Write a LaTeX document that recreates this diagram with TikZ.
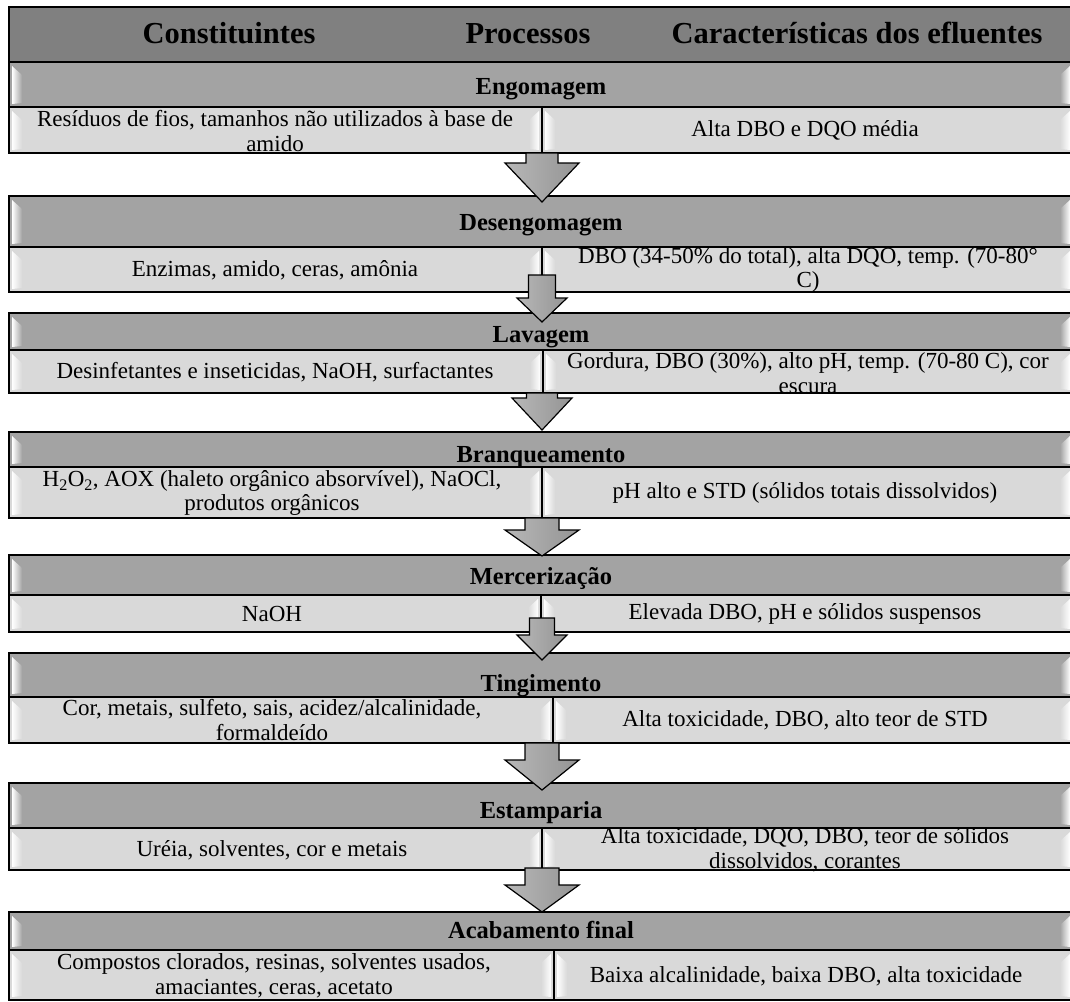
\documentclass[tikz,border=0pt]{standalone}
\usepackage{fontspec}
\setmainfont{Liberation Serif}
\usetikzlibrary{calc}
\colorlet{hdrC}{black!50}
\colorlet{ttlC}{black!36}
\colorlet{rowC}{black!15}
\tikzset{
  hdrS/.style ={draw=black, line width=2.4pt, fill=hdrC},
  lineS/.style={draw=black, line width=1.6pt},
  hdrT/.style ={font=\fontsize{30.5}{33}\selectfont\bfseries, inner sep=0pt, anchor=base},
  ttlT/.style ={font=\fontsize{24.5}{26}\selectfont\bfseries, inner sep=0pt, anchor=base},
  rowT/.style ={font=\fontsize{23}{24.5}\selectfont, align=center, inner sep=0pt},
  arrS/.style ={draw=black, line width=1.2pt, left color=black!28, middle color=white, right color=black!42},
}
\newcommand{\panel}[5]{%
  \fill[#5] (#1,#2) rectangle (#3,#4);
  \shade[left color=white, right color=#5] (#1+3,#2+4) -- (#1+13,#2+13) -- (#1+13,#4-4) -- (#1+3,#4-3) -- cycle;
  \shade[left color=#5, right color=white] (#3-13,#2+13) -- (#3-3,#2+4) -- (#3-3,#4-3) -- (#3-13,#4-4) -- cycle;
  \draw[lineS] (#1,#2) rectangle (#3,#4);
}
\newcommand{\stage}[4]{%
  \panel{9}{#1}{1073}{#2}{ttlC}
  \panel{9}{#2}{#4}{#3}{rowC}
  \panel{#4}{#2}{1073}{#3}{rowC}
}
\newcommand{\flowarrow}[6]{%
  \draw[arrS] (#1-#5,#2) -- (#1+#5,#2) -- (#1+#5,#3) -- (#1+#6,#3) -- (#1,#4) -- (#1-#6,#3) -- (#1-#5,#3) -- cycle;
}

\begin{document}
\begin{tikzpicture}[x=1pt, y=-1pt]
  \useasboundingbox (0,0) rectangle (1070,1001);
  \fill[white] (0,0) rectangle (1070,1001);
  \draw[hdrS] (9,7) rectangle (1073,62);
  \node[hdrT] (hCon) at (229,43) {Constituintes};
  \node[hdrT] (hPro) at (528,43) {Processos};
  \node[hdrT] (hEfl) at (857,43) {Características dos efluentes};

  \stage{62}{107}{153}{542}
  \stage{196}{247}{292}{542}
  \stage{313}{350}{393}{543}
  \stage{432}{467}{518}{542}
  \stage{555}{595}{632}{541}
  \stage{653}{697}{743}{553}
  \stage{783}{828}{870}{542}
  \stage{912}{950}{1000}{554}

  \node[ttlT] (p1) at (541,94)  {Engomagem};
  \node[ttlT] (p2) at (541,230) {Desengomagem};
  \node[ttlT] (p3) at (541,342) {Lavagem};
  \node[ttlT] (p4) at (541,462) {Branqueamento};
  \node[ttlT] (p5) at (541,584) {Mercerização};
  \node[ttlT] (p6) at (541,691) {Tingimento};
  \node[ttlT] (p7) at (541,818) {Estamparia};
  \node[ttlT] (p8) at (541,938) {Acabamento final};

  \node[rowT] (c1) at (275,131) {Resíduos de fios, tamanhos não utilizados à base de\\amido};
  \node[rowT] (e1) at (805,130) {Alta DBO e DQO média};
  \node[rowT] (c2) at (275,270) {Enzimas, amido, ceras, amônia};
  \node[rowT] (e2) at (808,270) {DBO (34-50\% do total), alta DQO, temp. (70-80°\\C)};
  \node[rowT] (c3) at (275,372) {Desinfetantes e inseticidas, NaOH, surfactantes};
  \node[rowT] (e3) at (808,373) {Gordura, DBO (30\%), alto pH, temp. (70-80 C), cor\\escura};
  \node[rowT] (c4) at (272,493) {H\textsubscript{2}O\textsubscript{2}, AOX (haleto orgânico absorvível), NaOCl,\\produtos orgânicos};
  \node[rowT] (e4) at (805,493) {pH alto e STD (sólidos totais dissolvidos)};
  \node[rowT] (c5) at (272,614) {NaOH};
  \node[rowT] (e5) at (805,614) {Elevada DBO, pH e sólidos suspensos};
  \node[rowT] (c6) at (272,720) {Cor, metais, sulfeto, sais, acidez/alcalinidade,\\formaldeído};
  \node[rowT] (e6) at (805,720) {Alta toxicidade, DBO, alto teor de STD};
  \node[rowT] (c7) at (272,850) {Uréia, solventes, cor e metais};
  \node[rowT] (e7) at (805,850) {Alta toxicidade, DQO, DBO, teor de sólidos\\dissolvidos, corantes};
  \node[rowT] (c8) at (274,976) {Compostos clorados, resinas, solventes usados,\\amaciantes, ceras, acetato};
  \node[rowT] (e8) at (806,976) {Baixa alcalinidade, baixa DBO, alta toxicidade};

  \flowarrow{542}{153}{163}{202}{16}{37}
  \flowarrow{542}{275}{298}{322}{13.5}{25}
  \flowarrow{542}{393}{398}{430}{15.5}{30}
  \flowarrow{542}{518}{530}{556}{17}{37}
  \flowarrow{542}{618}{635}{660}{12.5}{25}
  \flowarrow{542}{743}{760}{790}{17}{37}
  \flowarrow{542}{868}{885}{912}{17}{37}
\end{tikzpicture}
\end{document}
